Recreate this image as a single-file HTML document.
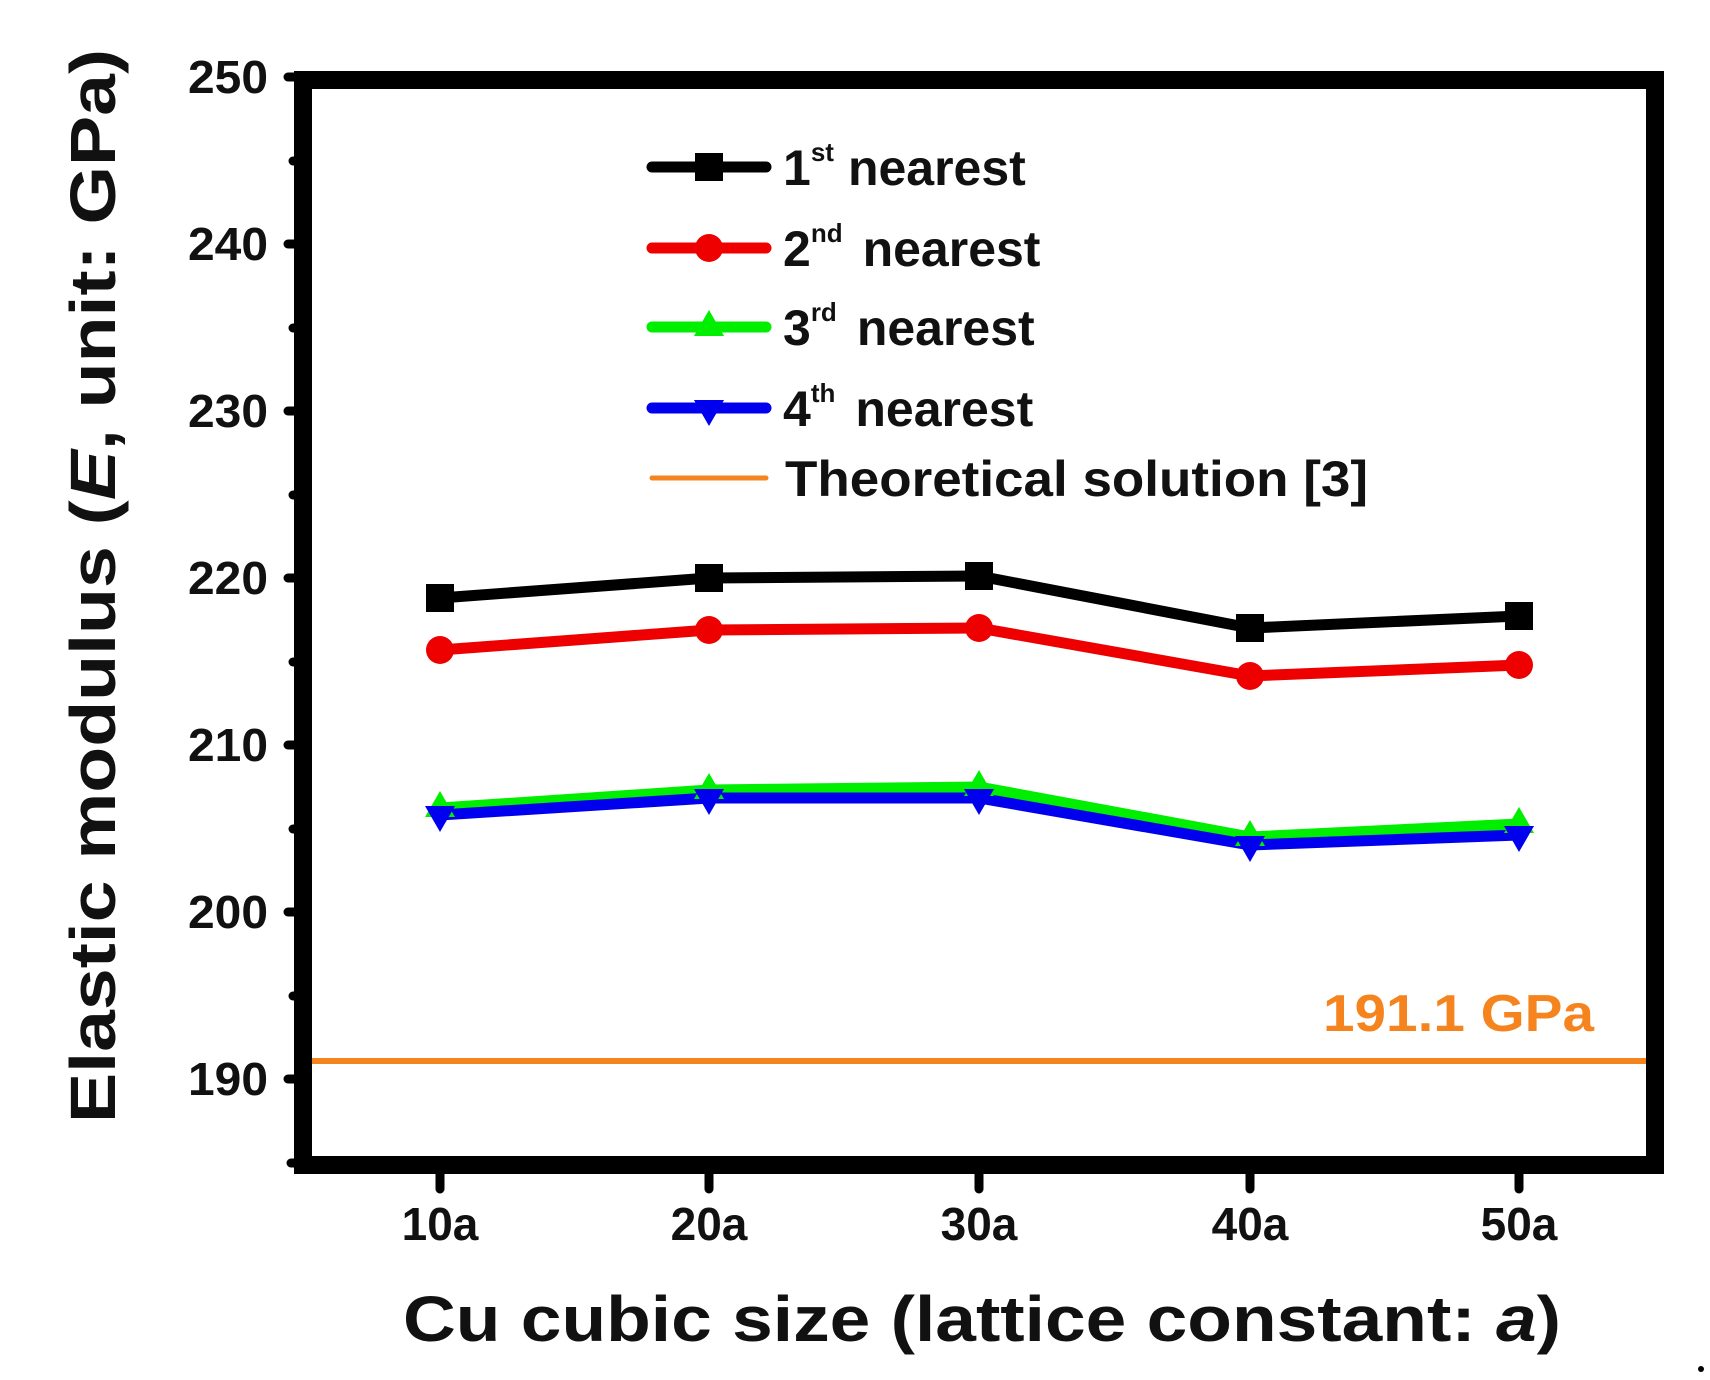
<!DOCTYPE html>
<html><head><meta charset="utf-8"><style>html,body{margin:0;padding:0;background:#fff}svg{display:block}</style></head>
<body>
<svg width="1710" height="1380" viewBox="0 0 1710 1380" xmlns="http://www.w3.org/2000/svg" font-family="'Liberation Sans Narrow','Liberation Sans',sans-serif" font-weight="bold">
<rect width="1710" height="1380" fill="#fff"/>
<line x1="312" y1="1061" x2="1655" y2="1061" stroke="#f5841f" stroke-width="6"/>
<rect x="303" y="80" width="1352" height="1085" fill="none" stroke="#000" stroke-width="18"/>
<g stroke="#000" stroke-width="9" stroke-linecap="round">
<line x1="288" y1="77" x2="303" y2="77"/><line x1="288" y1="244" x2="303" y2="244"/><line x1="288" y1="411" x2="303" y2="411"/><line x1="288" y1="578" x2="303" y2="578"/><line x1="288" y1="745" x2="303" y2="745"/><line x1="288" y1="912" x2="303" y2="912"/><line x1="288" y1="1079" x2="303" y2="1079"/><line x1="291" y1="1163" x2="303" y2="1163"/>
<line x1="293" y1="161" x2="303" y2="161"/><line x1="293" y1="328" x2="303" y2="328"/><line x1="293" y1="495" x2="303" y2="495"/><line x1="293" y1="662" x2="303" y2="662"/><line x1="293" y1="829" x2="303" y2="829"/><line x1="293" y1="996" x2="303" y2="996"/>
<line x1="440" y1="1165" x2="440" y2="1189"/><line x1="709" y1="1165" x2="709" y2="1189"/><line x1="979" y1="1165" x2="979" y2="1189"/><line x1="1250" y1="1165" x2="1250" y2="1189"/><line x1="1519" y1="1165" x2="1519" y2="1189"/>
</g>
<g font-size="46" text-anchor="end" fill="#111">
<text x="268" y="93" textLength="80" lengthAdjust="spacingAndGlyphs">250</text><text x="268" y="260" textLength="80" lengthAdjust="spacingAndGlyphs">240</text><text x="268" y="427" textLength="80" lengthAdjust="spacingAndGlyphs">230</text><text x="268" y="594" textLength="80" lengthAdjust="spacingAndGlyphs">220</text><text x="268" y="761" textLength="80" lengthAdjust="spacingAndGlyphs">210</text><text x="268" y="928" textLength="80" lengthAdjust="spacingAndGlyphs">200</text><text x="268" y="1095" textLength="80" lengthAdjust="spacingAndGlyphs">190</text>
</g>
<g font-size="46" text-anchor="middle" fill="#111">
<text x="440" y="1240">10a</text><text x="709" y="1240">20a</text><text x="979" y="1240">30a</text><text x="1250" y="1240">40a</text><text x="1519" y="1240">50a</text>
</g>
<text x="403" y="1341" font-size="64" font-family="'Liberation Sans',sans-serif" textLength="1158" lengthAdjust="spacingAndGlyphs" fill="#111">Cu cubic size (lattice constant: <tspan font-style="italic">a</tspan>)</text>
<text transform="translate(115,1123) rotate(-90)" font-size="64" font-family="'Liberation Sans',sans-serif" textLength="1074" lengthAdjust="spacingAndGlyphs" fill="#111">Elastic modulus (<tspan font-style="italic">E</tspan>, unit: GPa)</text>
<text x="1323" y="1031" font-size="52" font-family="'Liberation Sans',sans-serif" textLength="271" lengthAdjust="spacingAndGlyphs" fill="#f5841f">191.1 GPa</text>
<g fill="none" stroke-width="11" stroke-linejoin="round">
<polyline stroke="#00ee00" points="440,808 709,790 979,787 1250,837 1519,824"/>
<polyline stroke="#0000ee" points="440,815 709,798 979,798 1250,845 1519,835"/>
<polyline stroke="#ee0000" points="440,650 709,630 979,628 1250,676 1519,665"/>
<polyline stroke="#000" points="440,598 709,578 979,576 1250,628 1519,616"/>
</g>
<g fill="#00ee00">
<polygon points="440,791 455,817 425,817"/><polygon points="709,773 724,799 694,799"/><polygon points="979,770 994,796 964,796"/><polygon points="1250,820 1265,846 1235,846"/><polygon points="1519,807 1534,833 1504,833"/>
</g>
<g fill="#0000ee">
<polygon points="440,832 455,806 425,806"/><polygon points="709,815 724,789 694,789"/><polygon points="979,815 994,789 964,789"/><polygon points="1250,862 1265,836 1235,836"/><polygon points="1519,852 1534,826 1504,826"/>
</g>
<g fill="#ee0000">
<circle cx="440" cy="650" r="14"/><circle cx="709" cy="630" r="14"/><circle cx="979" cy="628" r="14"/><circle cx="1250" cy="676" r="14"/><circle cx="1519" cy="665" r="14"/>
</g>
<g fill="#000">
<rect x="426" y="584" width="28" height="28"/><rect x="695" y="564" width="28" height="28"/><rect x="965" y="562" width="28" height="28"/><rect x="1236" y="614" width="28" height="28"/><rect x="1505" y="602" width="28" height="28"/>
</g>
<g stroke-width="11" stroke-linecap="round">
<line x1="652" y1="167" x2="766" y2="167" stroke="#000"/>
<line x1="652" y1="248" x2="766" y2="248" stroke="#ee0000"/>
<line x1="652" y1="327" x2="766" y2="327" stroke="#00ee00"/>
<line x1="652" y1="408" x2="766" y2="408" stroke="#0000ee"/>
<line x1="652" y1="478" x2="766" y2="478" stroke="#f5841f" stroke-width="5"/>
</g>
<rect x="695" y="153" width="28" height="28" fill="#000"/>
<circle cx="709" cy="248" r="14" fill="#ee0000"/>
<polygon points="709,310 724,336 694,336" fill="#00ee00"/>
<polygon points="709,426 724,400 694,400" fill="#0000ee"/>
<g font-size="50" fill="#111">
<text x="783" y="185">1<tspan font-size="26" dy="-24">st</tspan><tspan dy="24" dx="14">nearest</tspan></text>
<text x="783" y="266">2<tspan font-size="26" dy="-24">nd</tspan><tspan dy="24" dx="20">nearest</tspan></text>
<text x="783" y="345">3<tspan font-size="26" dy="-24">rd</tspan><tspan dy="24" dx="20">nearest</tspan></text>
<text x="783" y="426">4<tspan font-size="26" dy="-24">th</tspan><tspan dy="24" dx="20">nearest</tspan></text>
<text x="785" y="496" textLength="583" lengthAdjust="spacingAndGlyphs">Theoretical solution [3]</text>
</g>
<circle cx="1701" cy="1369" r="3" fill="#000"/>
</svg>
</body></html>
